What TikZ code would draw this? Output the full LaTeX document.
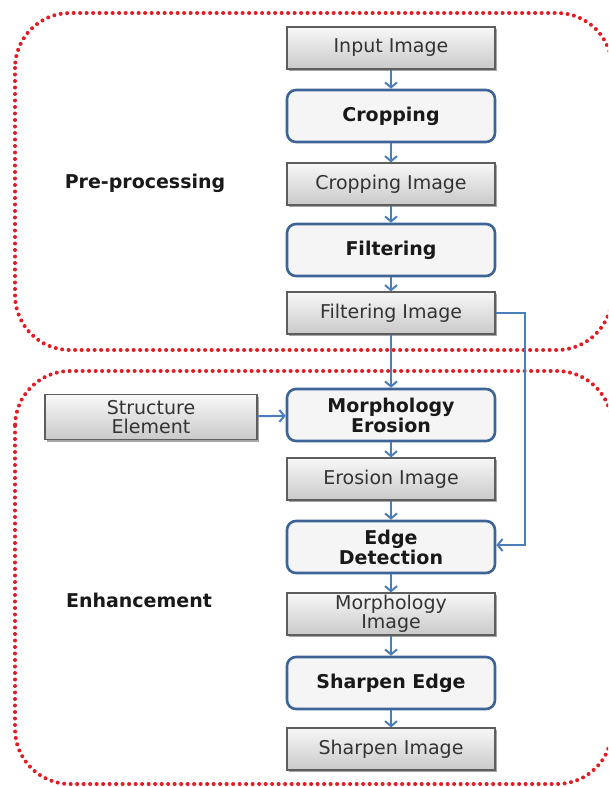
\documentclass[tikz,border=0pt]{standalone}
\usepackage{fontspec}
\setmainfont{DejaVu Sans}
\usetikzlibrary{arrows.meta,shadows}
\definecolor{dotred}{HTML}{E31B23}
\definecolor{linkblue}{HTML}{4A7EBB}
\definecolor{procblue}{HTML}{3D6496}
\definecolor{boxedge}{HTML}{5E5E5E}
\tikzset{
  imgbox/.style={draw=boxedge, line width=1.2pt, top color=gray!6, bottom color=gray!42,
    minimum width=208pt, minimum height=42pt, inner sep=1pt, align=center,
    font=\fontsize{19}{19.5}\selectfont, text=black!80,
    drop shadow={shadow xshift=2pt, shadow yshift=-2pt, opacity=0.35, fill=black}},
  procbox/.style={draw=procblue, line width=2.6pt, rounded corners=9pt, fill=gray!8,
    minimum width=208pt, minimum height=52pt, inner sep=1pt, align=center,
    font=\bfseries\fontsize{19}{20}\selectfont, text=black!90},
  link/.style={draw=linkblue, line width=2pt, -{Straight Barb[length=5pt,width=12pt,line width=2pt]}},
  region/.style={draw=dotred, line width=4pt, line cap=round, dash pattern=on 0pt off 6.5pt, rounded corners=55pt},
  grouplabel/.style={font=\bfseries\fontsize{19}{20}\selectfont, text=black!90}
}
\begin{document}
\begin{tikzpicture}[x=1pt,y=-1pt]
\useasboundingbox (0,0) rectangle (608,787);
\clip (0,0) rectangle (608,787);
\fill[white] (0,0) rectangle (608,787);
% regions
\draw[region] (15,13) rectangle (612,350);
\draw[region] (15,371) rectangle (612,784);
\node[grouplabel] (lpre) at (145,183) {Pre-processing};
\node[grouplabel] (lenh) at (139,600) {Enhancement};
% nodes
\node[imgbox] (input) at (391,48) {Input Image};
\node[procbox] (crop) at (391,116) {Cropping};
\node[imgbox] (cropimg) at (391,184) {Cropping Image};
\node[procbox] (filt) at (391,250) {Filtering};
\node[imgbox] (filtimg) at (391,313) {Filtering Image};
\node[procbox] (ero) at (391,415) {Morphology\\Erosion};
\node[imgbox, minimum width=212pt, minimum height=45pt] (se) at (151,417) {Structure\\Element};
\node[imgbox] (eroimg) at (391,479) {Erosion Image};
\node[procbox] (edge) at (391,547) {Edge\\Detection};
\node[imgbox] (morimg) at (391,614) {Morphology\\Image};
\node[procbox] (sharp) at (391,683) {Sharpen Edge};
\node[imgbox] (sharpimg) at (391,749) {Sharpen Image};
% connectors
\draw[link] (input) -- (crop);
\draw[link] (crop) -- (cropimg);
\draw[link] (cropimg) -- (filt);
\draw[link] (filt) -- (filtimg);
\draw[link] (filtimg) -- (ero);
\draw[link] (se) -- (ero);
\draw[link] (ero) -- (eroimg);
\draw[link] (eroimg) -- (edge);
\draw[link] (edge) -- (morimg);
\draw[link] (morimg) -- (sharp);
\draw[link] (sharp) -- (sharpimg);
\coordinate (turn1) at (525,313);
\coordinate (turn2) at (525,545);
\draw[link] (filtimg.east) -- (turn1) -- (turn2) -- (edge.east |- turn2);
\end{tikzpicture}
\end{document}
